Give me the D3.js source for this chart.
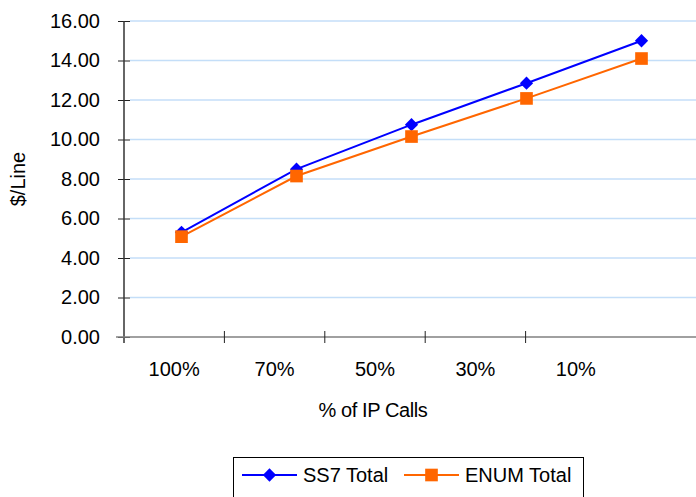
<!DOCTYPE html>
<html>
<head>
<meta charset="utf-8">
<script src="https://cdn.jsdelivr.net/npm/d3@7"></script>
<style>
  html, body { margin: 0; padding: 0; background: #fff; }
  svg { display: block; font-family: "Liberation Sans", Arial, sans-serif; }
</style>
</head>
<body>
<svg id="chart" width="696" height="497"></svg>
<script>
// Cost per line as the share of IP calls falls
const categories = ["100%", "70%", "50%", "30%", "10%"];
const ss7Total  = [5.3, 8.5, 10.75, 12.85, 15.0];
const enumTotal = [5.08, 8.15, 10.15, 12.08, 14.1];
const yTicks = [0, 2, 4, 6, 8, 10, 12, 14, 16];

const svg = d3.select("#chart");
const plotLeft = 124, plotTop = 21, plotBottom = 337, plotRight = 696;
const fontSize = 20;

const y = d3.scaleLinear().domain([0, 16]).range([plotBottom, plotTop]);
// category labels and tick marks
const xLab = d3.scaleBand().domain(categories).range([plotLeft, 626]);
// plotted points
const xPt = d3.scaleBand().domain(categories).range([plotLeft, 699]);

// gridlines
svg.append("g").selectAll("line").data(yTicks.filter(d => d > 0)).join("line")
  .attr("x1", 130).attr("x2", plotRight)
  .attr("y1", d => y(d)).attr("y2", d => y(d))
  .attr("stroke", "#c4def8").attr("stroke-width", 1.5);

// y axis
const yAxis = svg.append("g").attr("transform", `translate(${plotLeft},0)`)
  .call(d3.axisLeft(y).tickValues(yTicks).tickFormat(d3.format(".2f")).tickSize(6).tickPadding(18));
yAxis.select(".domain").remove();
yAxis.append("line").attr("x1", 0).attr("x2", 0).attr("y1", plotTop).attr("y2", plotBottom + 6)
  .attr("stroke", "#333").attr("stroke-width", 1.5);
yAxis.selectAll(".tick line").attr("x1", 6).attr("x2", -6).attr("stroke", "#222");
yAxis.selectAll(".tick text").attr("font-size", fontSize).attr("fill", "#000")
  .attr("font-family", "Liberation Sans, Arial, sans-serif");

// x axis
const xAxis = svg.append("g").attr("transform", `translate(0,${plotBottom})`);
xAxis.append("line").attr("x1", 116).attr("x2", plotRight).attr("y1", 0).attr("y2", 0)
  .attr("stroke", "#808080").attr("stroke-width", 1.5);
xAxis.selectAll("line.tk").data(categories.slice(1)).join("line").attr("class", "tk")
  .attr("x1", d => xLab(d)).attr("x2", d => xLab(d))
  .attr("y1", -6).attr("y2", 6).attr("stroke", "#222");
xAxis.selectAll("text").data(categories).join("text")
  .attr("x", d => xLab(d) + xLab.bandwidth() / 2)
  .attr("y", 32).attr("dy", "0.35em")
  .attr("text-anchor", "middle").attr("font-size", fontSize).text(d => d);

// axis titles
svg.append("text").attr("x", 373).attr("y", 410).attr("dy", "0.35em")
  .attr("text-anchor", "middle").attr("font-size", fontSize).attr("letter-spacing", -0.4)
  .text("% of IP Calls");
svg.append("text").attr("transform", "translate(18,179) rotate(-90)").attr("dy", "0.35em")
  .attr("text-anchor", "middle").attr("font-size", fontSize).text("$/Line");

// diamond = square turned 45 degrees
const series = [
  { name: "SS7 Total", values: ss7Total, color: "#0000ff", rot: 45, size: 88 },
  { name: "ENUM Total", values: enumTotal, color: "#ff6600", rot: 0, size: 160 }
];
const cx = c => xPt(c) + xPt.bandwidth() / 2;
const marker = s => d3.symbol().type(d3.symbolSquare).size(s.size);

series.forEach(s => {
  const pts = categories.map((c, i) => [cx(c), y(s.values[i])]);
  svg.append("path").attr("d", d3.line()(pts))
    .attr("fill", "none").attr("stroke", s.color).attr("stroke-width", 2);
});
series.forEach(s => {
  svg.append("g").selectAll("path").data(categories).join("path")
    .attr("transform", (c, i) => `translate(${cx(c)},${y(s.values[i])}) rotate(${s.rot})`)
    .attr("d", marker(s))
    .attr("fill", s.color);
});

// legend
const lg = svg.append("g");
lg.append("rect").attr("x", 233.5).attr("y", 457.5).attr("width", 350).attr("height", 45)
  .attr("fill", "#fff").attr("stroke", "#000").attr("stroke-width", 1);
const legendItems = [
  { s: series[0], x1: 242, x2: 297, tx: 303 },
  { s: series[1], x1: 404, x2: 459, tx: 465 }
];
legendItems.forEach(it => {
  lg.append("line").attr("x1", it.x1).attr("x2", it.x2).attr("y1", 475).attr("y2", 475)
    .attr("stroke", it.s.color).attr("stroke-width", 2);
  lg.append("path").attr("transform", `translate(${(it.x1 + it.x2) / 2},475) rotate(${it.s.rot})`)
    .attr("d", marker(it.s)).attr("fill", it.s.color);
  lg.append("text").attr("x", it.tx).attr("y", 475).attr("dy", "0.35em")
    .attr("font-size", fontSize).text(it.s.name);
});
</script>
</body>
</html>
